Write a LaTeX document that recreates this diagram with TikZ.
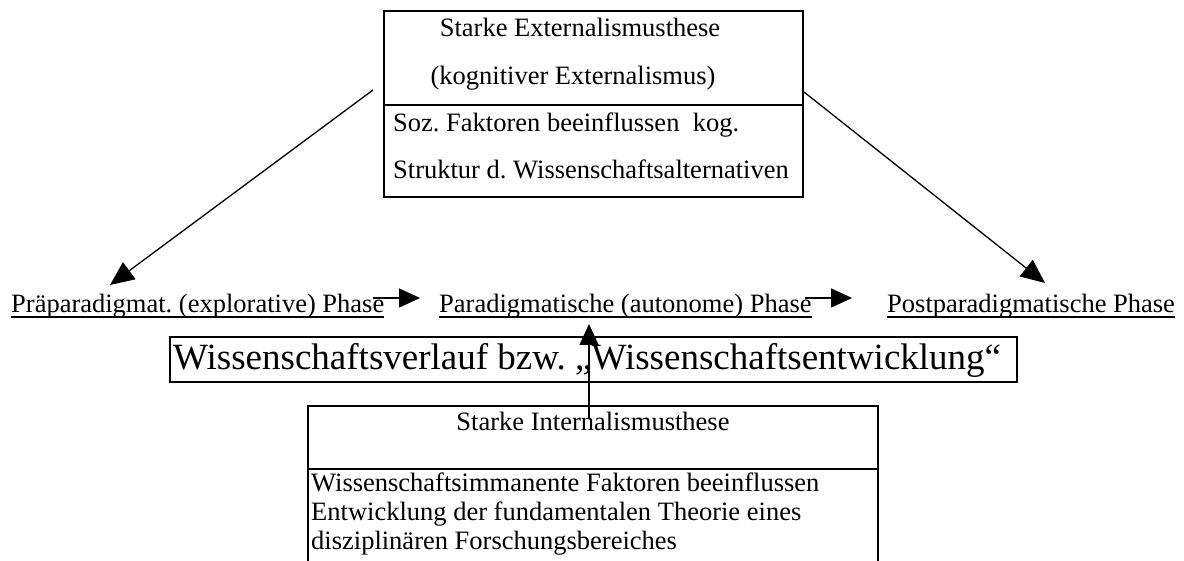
\documentclass[tikz,border=0pt]{standalone}
\usepackage{fontspec}
\setmainfont{Liberation Serif}
\usetikzlibrary{arrows.meta}
\frenchspacing
\begin{document}
\begin{tikzpicture}[x=1pt,y=-1pt,
  txt/.style={inner sep=0pt, font=\fontsize{26.5}{30}\selectfont\frenchspacing},
  bigtxt/.style={inner sep=0pt, font=\fontsize{37}{42}\selectfont\frenchspacing},
  boxline/.style={line width=1.6pt},
  uline/.style={line width=1.1pt},
  harr/.style={line width=1.3pt, -{Triangle[length=21pt,width=19pt]}},
  darr/.style={line width=1.3pt, -{Triangle[length=24pt,width=21pt]}}]
\useasboundingbox (0,0) rectangle (1184,561);

% top box
\node[draw, boxline, minimum width=419pt, minimum height=186pt, inner sep=0pt] (extbox) at (593.5,104) {};
\draw[boxline] (384,105) -- (803,105);
\node[txt, anchor=base] (ext1) at (580,37) {Starke Externalismusthese};
\node[txt, anchor=base] (ext2) at (573,85) {(kognitiver Externalismus)};
\node[txt, anchor=base west] (ext3) at (393,132) {Soz. Faktoren beeinflussen\ \ kog.};
\node[txt, anchor=base west] (ext4) at (393,179) {Struktur d. Wissenschaftsalternativen};

% phase labels
\node[txt, anchor=base west] (p1) at (11,313) {Präparadigmat. (explorative) Phase};
\node[txt, anchor=base west] (p2) at (439,313) {Paradigmatische (autonome) Phase};
\node[txt, anchor=base west] (p3) at (887,313) {Postparadigmatische Phase};
\foreach \n in {p1,p2,p3}{
  \draw[uline] ([yshift=-4pt]\n.base west) -- ([yshift=-4pt]\n.base east);
}

% middle box
\node[bigtxt, anchor=base west] (wv) at (173,370) {Wissenschaftsverlauf bzw. „Wissenschaftsentwicklung“};
\draw[boxline] (170,337) rectangle (1017,382);

% bottom box (cut off at the bottom)
\draw[boxline] (308,561) -- (308,406) -- (878,406) -- (878,561);
\draw[boxline] (308,469) -- (878,469);
\node[txt, anchor=base] (int1) at (593,431) {Starke Internalismusthese};
\node[txt, anchor=base west] (int2) at (311,491) {Wissenschaftsimmanente Faktoren beeinflussen};
\node[txt, anchor=base west] (int3) at (311,520) {Entwicklung der fundamentalen Theorie eines};
\node[txt, anchor=base west] (int4) at (311,549) {disziplinären Forschungsbereiches};

% connectors
\coordinate (ls) at (373,90);
\coordinate (lt) at (110,285);
\coordinate (rs) at (804,92);
\coordinate (rt) at (1045,283);
\coordinate (h1s) at (373,298);
\coordinate (h1t) at (420,298);
\coordinate (h2s) at (805,298);
\coordinate (h2t) at (852,298);
\coordinate (vs) at (589,418);
\coordinate (vt) at (589,324);
\draw[darr] (ls) -- (lt);
\draw[darr] (rs) -- (rt);
\draw[harr] (h1s) -- (h1t);
\draw[harr] (h2s) -- (h2t);
\draw[harr] (vs) -- (vt);
\end{tikzpicture}
\end{document}
